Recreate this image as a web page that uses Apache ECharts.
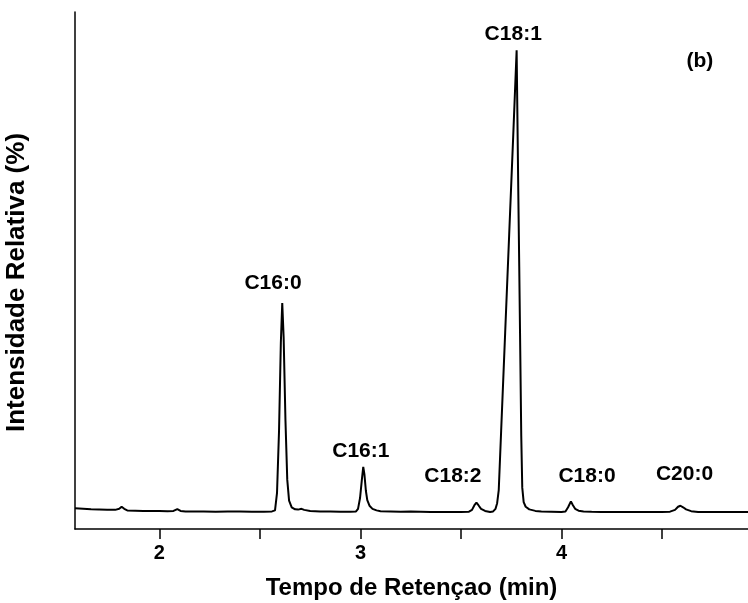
<!DOCTYPE html>
<html>
<head>
<meta charset="utf-8">
<script src="https://cdn.jsdelivr.net/npm/echarts@6/dist/echarts.min.js"></script>
<style>html,body{margin:0;padding:0;background:#fff}#c{width:748px;height:603px}</style>
</head>
<body>
<div id="c"></div>
<script>
// Retention time (min)
const retTime = [1.58,1.62,1.66,1.70,1.74,1.78,1.80,1.812,1.825,1.84,1.88,1.92,1.96,2.00,2.04,2.07,2.089,2.105,2.13,2.18,2.22,2.28,2.34,2.40,2.46,2.52,2.56,2.575,2.585,2.595,2.604,2.611,2.618,2.627,2.636,2.645,2.658,2.675,2.69,2.707,2.72,2.75,2.80,2.85,2.90,2.95,2.978,2.988,2.998,3.007,3.014,3.020,3.027,3.034,3.045,3.06,3.08,3.10,3.15,3.20,3.25,3.30,3.35,3.40,3.45,3.50,3.54,3.555,3.567,3.577,3.587,3.60,3.62,3.645,3.660,3.672,3.680,3.688,3.700,3.720,3.740,3.760,3.777,3.785,3.790,3.795,3.800,3.805,3.812,3.822,3.84,3.87,3.90,3.95,4.00,4.02,4.033,4.047,4.057,4.068,4.085,4.11,4.15,4.20,4.25,4.30,4.35,4.40,4.45,4.50,4.54,4.565,4.58,4.592,4.605,4.62,4.645,4.68,4.72,4.78,4.84,4.90,4.928];
// Relative intensity
const intensity = [4.0,3.9,3.8,3.75,3.7,3.7,3.9,4.3,3.9,3.6,3.55,3.5,3.5,3.5,3.45,3.5,3.85,3.5,3.4,3.4,3.4,3.35,3.4,3.4,3.35,3.35,3.4,3.6,7.0,19,36,43.7,37,21,9.5,5.5,4.2,3.8,3.75,3.9,3.7,3.5,3.4,3.4,3.35,3.35,3.4,3.9,6.0,9.5,12.0,10.5,7.4,5.6,4.5,3.9,3.6,3.45,3.4,3.35,3.4,3.35,3.3,3.3,3.3,3.3,3.35,3.7,4.6,5.1,4.6,3.9,3.5,3.3,3.4,3.9,5.0,7.5,19,38,57,76,92.6,66,50.7,34.5,18,8,5.2,4.3,3.8,3.5,3.4,3.35,3.3,3.4,4.2,5.35,4.6,3.9,3.55,3.4,3.35,3.3,3.3,3.3,3.3,3.3,3.3,3.3,3.35,3.7,4.3,4.5,4.2,3.8,3.45,3.3,3.3,3.3,3.3,3.3,3.3];
// Peak annotations
const peakNames = ["C16:0","C16:1","C18:2","C18:1","C18:0","C20:0","(b)"];
const peakLabelX = [2.565,3.002,3.460,3.760,4.127,4.612,4.689];
const peakLabelY = [47.6,15.0,10.2,95.7,10.3,10.6,90.5];
// Axis ticks
const xLabelValues = [2,3,4];
const xTickValues = [2,2.5,3,3.5,4,4.5];

const FONT = '"Liberation Sans", Arial, sans-serif';
const chart = echarts.init(document.getElementById('c'));
chart.setOption({
  animation: false,
  backgroundColor: '#fff',
  grid: {left: 75, right: 0, top: 12, bottom: 74, outerBoundsMode: 'none', containLabel: false},
  xAxis: {
    type: 'value', min: 1.58, max: 4.928,
    name: 'Tempo de Retençao (min)', nameLocation: 'middle', nameGap: 47,
    nameTextStyle: {fontFamily: FONT, fontWeight: 'bold', fontSize: 24, color: '#000'},
    axisLine: {onZero: false, lineStyle: {color: '#000', width: 1.5}},
    axisTick: {show: true, inside: false, length: 10, customValues: xTickValues, lineStyle: {color: '#000', width: 1.5}},
    axisLabel: {customValues: xLabelValues, margin: 14, fontFamily: FONT, fontWeight: 'bold', fontSize: 20, color: '#000'},
    splitLine: {show: false}
  },
  yAxis: {
    type: 'value', min: 0, max: 100,
    name: 'Intensidade Relativa (%)', nameLocation: 'middle', nameGap: 45,
    nameTextStyle: {fontFamily: FONT, fontWeight: 'bold', fontSize: 26, color: '#000', padding: [0, 24, 0, 0]},
    axisLine: {show: true, lineStyle: {color: '#000', width: 1.5}},
    axisTick: {show: false},
    axisLabel: {show: false},
    splitLine: {show: false}
  },
  series: [
    {
      type: 'line',
      data: retTime.map((t, i) => [t, intensity[i]]),
      showSymbol: false,
      lineStyle: {color: '#000', width: 2},
      clip: true
    },
    {
      type: 'scatter',
      data: peakNames.map((n, i) => [peakLabelX[i], peakLabelY[i], n]),
      symbolSize: 0,
      itemStyle: {color: '#000', opacity: 1},
      label: {
        show: true, position: 'inside',
        formatter: p => p.data[2],
        fontFamily: FONT, fontWeight: 'bold', fontSize: 21, color: '#000', opacity: 1,
        textBorderWidth: 0, textBorderColor: 'transparent'
      }
    }
  ]
});
</script>
</body>
</html>
